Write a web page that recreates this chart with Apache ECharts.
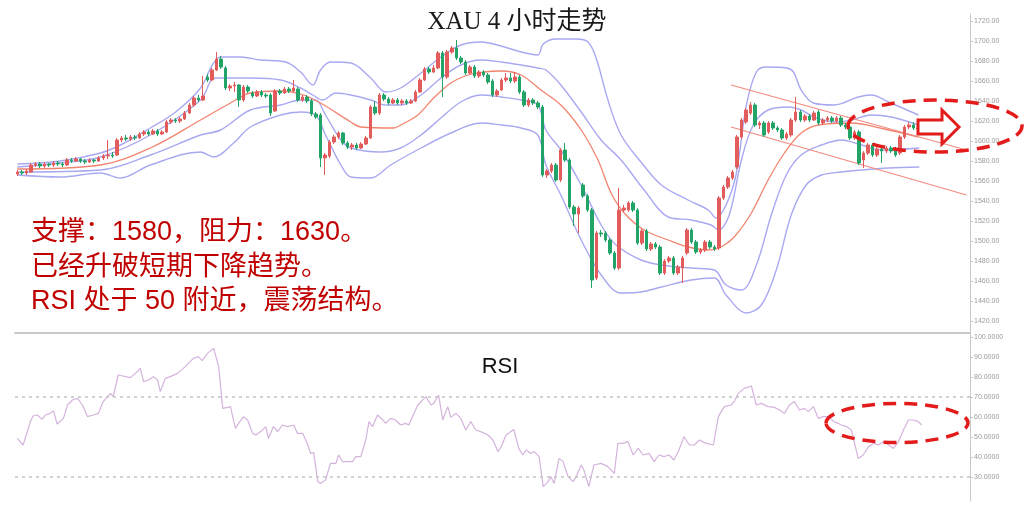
<!DOCTYPE html>
<html><head><meta charset="utf-8">
<script src="https://cdn.jsdelivr.net/npm/echarts@6/dist/echarts.min.js"></script>
<style>html,body{margin:0;padding:0;background:#fff}#c{width:1024px;height:507px}</style>
</head><body><div id="c"></div>
<script>
// candles: [open, close, low, high]
const candles = [
[1567,1569,1565,1571],[1569,1568,1566,1571],[1568,1570,1566,1572],[1569,1576,1568,1578],[1576,1577,1574,1579],
[1577,1575,1573,1579],[1575,1577,1573,1579],[1577,1576,1574,1578],[1576,1578,1574,1580],[1578,1577,1575,1580],
[1577,1576,1574,1579],[1576,1581,1575,1583],[1581,1580,1578,1583],[1580,1582,1579,1584],[1582,1580,1578,1583],
[1580,1579,1577,1582],[1579,1581,1578,1583],[1581,1580,1578,1582],[1580,1583,1579,1585],[1583,1585,1581,1587],
[1585,1586,1582,1601],[1586,1585,1583,1589],[1586,1601,1585,1603],[1601,1603,1599,1605],[1603,1602,1600,1606],
[1602,1604,1600,1606],[1604,1603,1601,1606],[1603,1607,1602,1609],[1607,1609,1605,1611],[1609,1607,1605,1611],
[1607,1610,1606,1612],[1610,1607,1605,1612],[1607,1609,1606,1611],[1609,1619,1608,1621],[1619,1621,1617,1623],
[1621,1620,1618,1623],[1620,1622,1618,1624],[1622,1628,1621,1630],[1628,1636,1627,1638],[1636,1643,1634,1645],
[1643,1641,1639,1646],[1641,1645,1640,1665],[1664,1661,1659,1667],[1661,1671,1660,1673],[1671,1682,1670,1689],
[1682,1674,1672,1685],[1673,1653,1651,1675],[1653,1655,1650,1657],[1655,1656,1649,1659],[1656,1641,1634,1657],
[1641,1654,1639,1656],[1654,1650,1648,1656],[1648,1645,1643,1650],[1645,1649,1644,1651],[1649,1646,1644,1651],
[1646,1645,1643,1648],[1646,1628,1625,1648],[1630,1650,1629,1652],[1650,1648,1646,1652],[1648,1652,1647,1654],
[1652,1650,1648,1654],[1650,1653,1649,1661],[1652,1641,1639,1654],[1641,1644,1639,1646],[1644,1640,1638,1646],
[1640,1627,1625,1642],[1627,1624,1622,1629],[1626,1583,1574,1628],[1583,1586,1566,1588],[1585,1599,1583,1601],
[1599,1604,1597,1606],[1604,1608,1602,1610],[1608,1598,1596,1609],[1598,1594,1592,1600],[1594,1596,1591,1598],
[1596,1593,1591,1598],[1593,1597,1592,1599],[1597,1603,1596,1605],[1603,1634,1602,1636],[1634,1628,1626,1640],
[1628,1646,1626,1648],[1646,1642,1640,1648],[1642,1638,1636,1644],[1638,1641,1637,1643],[1641,1638,1636,1643],
[1638,1640,1636,1642],[1640,1638,1636,1642],[1638,1640,1637,1642],[1640,1649,1639,1651],[1649,1661,1648,1663],
[1661,1672,1660,1674],[1672,1669,1667,1674],[1669,1673,1668,1676],[1673,1688,1672,1690],[1688,1664,1644,1690],
[1664,1689,1662,1691],[1689,1693,1687,1695],[1693,1683,1681,1701],[1683,1679,1677,1685],[1679,1668,1666,1681],
[1668,1674,1667,1676],[1674,1665,1663,1676],[1665,1669,1663,1671],[1669,1666,1664,1671],[1666,1659,1657,1668],
[1660,1646,1644,1662],[1646,1650,1644,1652],[1651,1661,1650,1663],[1661,1663,1659,1668],[1663,1660,1658,1668],
[1660,1664,1658,1669],[1664,1649,1647,1666],[1649,1636,1634,1651],[1636,1641,1634,1643],[1641,1638,1636,1643],
[1638,1634,1632,1640],[1634,1566,1564,1636],[1566,1570,1563,1572],[1570,1576,1568,1578],[1576,1561,1559,1578],
[1561,1591,1559,1593],[1591,1581,1579,1598],[1581,1534,1532,1583],[1534,1527,1515,1536],[1527,1533,1508,1535],
[1556,1545,1543,1558],[1545,1531,1529,1547],[1531,1461,1453,1533],[1463,1508,1461,1510],[1508,1507,1504,1511],
[1508,1501,1499,1510],[1501,1488,1486,1503],[1488,1473,1471,1490],[1473,1531,1471,1553],[1531,1533,1529,1536],
[1531,1538,1529,1540],[1538,1531,1529,1540],[1531,1498,1496,1533],[1498,1510,1496,1512],[1510,1492,1490,1512],
[1492,1497,1490,1499],[1497,1494,1492,1499],[1494,1468,1466,1496],[1468,1480,1466,1482],[1480,1483,1478,1485],
[1483,1468,1466,1485],[1468,1474,1466,1476],[1473,1483,1458,1485],[1488,1511,1486,1513],[1511,1499,1497,1513],
[1499,1489,1487,1501],[1489,1491,1487,1493],[1491,1499,1489,1501],[1499,1494,1492,1501],[1494,1492,1490,1496],
[1493,1543,1491,1545],[1543,1554,1541,1556],[1554,1563,1552,1565],[1563,1569,1561,1571],[1574,1604,1572,1606],
[1604,1621,1602,1623],[1619,1631,1617,1633],[1628,1636,1626,1639],[1636,1616,1614,1638],[1616,1618,1612,1620],
[1618,1606,1604,1620],[1609,1618,1607,1620],[1618,1613,1611,1620],[1613,1611,1609,1615],[1611,1603,1601,1613],
[1603,1607,1601,1609],[1606,1621,1604,1623],[1621,1629,1619,1644],[1629,1621,1619,1631],[1621,1625,1619,1627],
[1625,1621,1619,1627],[1621,1628,1620,1630],[1629,1618,1616,1631],[1618,1621,1616,1623],[1621,1623,1619,1625],
[1623,1620,1618,1625],[1620,1623,1618,1625],[1623,1616,1614,1625],[1616,1614,1612,1618],[1614,1603,1601,1616],
[1603,1609,1601,1611],[1609,1578,1576,1611],[1581,1588,1573,1590],[1588,1596,1586,1598],[1596,1586,1584,1598],
[1586,1592,1584,1594],[1592,1590,1578,1594],[1590,1593,1588,1595],[1593,1590,1588,1595],[1592,1586,1584,1594],
[1588,1604,1586,1606],[1604,1614,1602,1616],[1614,1616,1612,1619],[1616,1613,1611,1619],[1613,1612,1610,1615]
];
// band lines: [candle index, price]
const upperOuter = [[0,1577],[9.5,1580],[18.4,1588],[22.8,1596],[29.4,1613],[35,1629],[40.5,1653],[43.1,1676],[44.9,1684],[49.3,1684],[53.8,1681],[59.3,1679],[62.6,1669],[65.3,1656],[67,1671],[69.2,1679],[73.7,1678],[78.1,1663],[81.4,1649],[84.7,1653],[89.2,1668],[93.6,1684],[98,1696],[102.4,1699],[106.9,1695],[111.3,1689],[115,1686],[116.2,1697],[119,1702],[123.5,1702],[126.1,1699],[127.9,1683],[130.5,1641],[133.4,1606],[137.8,1579],[142.3,1556],[148.2,1541],[152.7,1531],[154.4,1523],[156.6,1536],[158.8,1566],[161.1,1636],[163.3,1669],[165.5,1674],[170,1673],[171.5,1669],[173.2,1651],[175.9,1638],[180.5,1636],[185.8,1644],[188.7,1646],[192.5,1639],[199.1,1626]];
const upperInner = [[0,1574],[9.5,1578],[18.4,1584],[29.4,1606],[40.5,1641],[43.8,1663],[51.5,1663],[58.2,1661],[62.6,1653],[65.3,1646],[67.5,1641],[70.4,1648],[73.7,1646],[78.1,1641],[81.4,1636],[84.7,1636],[89.2,1646],[93.6,1663],[98,1676],[102.4,1681],[106.9,1679],[111.3,1676],[115,1673],[116.8,1671],[120.1,1656],[124.6,1629],[129,1601],[133.4,1581],[138.5,1551],[143.8,1524],[148.9,1521],[153.3,1516],[154.9,1511],[157.3,1526],[160,1581],[162.6,1616],[165.9,1631],[170.4,1634],[173.2,1631],[176.5,1623],[181,1619],[184.3,1621],[188.7,1626],[193.1,1624],[199.1,1616]];
const midLine = [[0,1572],[18.4,1576],[29.4,1593],[40.5,1621],[47.1,1638],[51.5,1648],[58.2,1650],[62.6,1647],[67,1638],[73.7,1619],[75.9,1614],[83.2,1613],[84.7,1616],[88.5,1626],[92,1643],[95.8,1658],[99.6,1666],[103.1,1669],[106.9,1670],[111.3,1666],[115.7,1651],[120.1,1636],[124.6,1611],[128.3,1581],[131.2,1548],[134.1,1528],[138.5,1511],[143.8,1501],[148.2,1494],[152.7,1491],[155.5,1494],[158.4,1504],[162.2,1528],[165.9,1561],[169.5,1588],[173.2,1608],[177,1616],[184.3,1618],[191.6,1612],[199.1,1604]];
const lowerInner = [[0,1569],[18.4,1571],[29.4,1586],[40.5,1606],[44.9,1611],[51.5,1631],[58.2,1636],[62.6,1641],[65.9,1641],[68.1,1626],[71.5,1601],[73.7,1593],[80.3,1589],[84.7,1593],[89.2,1606],[93.6,1623],[98,1639],[102.4,1646],[106.9,1644],[111.3,1641],[115,1636],[116.8,1611],[120.1,1591],[124.6,1556],[129,1516],[132.3,1496],[137.8,1481],[142.3,1476],[148.9,1473],[154,1471],[156.6,1456],[160,1451],[163.3,1476],[166.6,1526],[169.9,1566],[173.2,1586],[177.7,1596],[182.1,1601],[186.5,1596],[190.9,1591],[199.3,1593]];
const lowerOuter = [[0,1566],[9.5,1564],[18.4,1568],[22.8,1563],[29.4,1576],[40.5,1589],[43.4,1584],[47.8,1598],[51.5,1614],[58.2,1626],[62.6,1629],[65.9,1626],[68.1,1606],[71.5,1576],[73.7,1564],[78.1,1563],[82.5,1576],[89.2,1593],[95.8,1608],[102.4,1618],[106.9,1616],[111.3,1613],[115,1606],[116.8,1576],[120.1,1546],[124.6,1501],[129,1466],[133.4,1448],[137.8,1449],[142.3,1454],[148.9,1461],[154,1463],[156.6,1446],[161.1,1428],[164.4,1436],[167.7,1471],[171,1526],[174.3,1556],[177.7,1566],[182.1,1569],[186.5,1571],[192.5,1573],[199.3,1574]];
const trendUpper = [[157.7,1656],[209.7,1591]];
const trendLower = [[157.7,1614],[209.7,1546]];
// RSI: [candle index, value]
const rsi = [[0,49.3],[0.2,48.5],[1.3,46],[2.9,57.7],[3.5,60.5],[4.4,61],[5.5,58.8],[6.2,61],[7.3,61.8],[8,63.2],[8.8,56.5],[10.2,59.3],[11.1,66],[12.2,68.5],[13.3,69.3],[14.4,66],[15.5,60.2],[16.8,61],[17.9,61.8],[19,67.7],[20.6,71.8],[21.2,70.2],[22.3,81],[23.9,80.2],[25,79.7],[26.1,81.8],[27.2,84.3],[27.9,77.7],[29,78.5],[30.1,80.2],[31,78.5],[31.6,72.7],[32.7,79.3],[33.8,80.2],[35.4,81.8],[36.7,84.3],[37.8,86.8],[38.9,89.3],[40,90.2],[40.9,88.2],[42,91.8],[43.4,94.3],[43.8,93.5],[44.5,85.2],[45.4,64.3],[46.5,64.8],[47.1,65.2],[48.2,54.3],[48.9,56.8],[50,60.2],[50.9,58.5],[52,51.8],[52.7,51],[53.8,52.7],[54.9,55.2],[55.5,49.3],[56.6,55.2],[57.5,52.7],[58.6,56],[59.7,55.2],[61.1,56],[61.9,51.8],[63.1,51.8],[64.2,46],[64.8,41.8],[65.5,42.2],[66.4,27.7],[67,26.8],[68.1,28.5],[69.2,36.8],[70.4,36.8],[71,41],[71.9,37.7],[73,37.7],[74.1,37.7],[74.8,40.2],[75.9,40.2],[77,48.5],[77.7,57.7],[78.5,55.2],[79.6,61],[80.8,58.5],[81.4,56.8],[82.5,59.3],[83.6,58.5],[84.7,56],[85.8,56.8],[86.5,56],[88.5,66],[90.3,70.2],[91.4,66],[92,66.8],[93.1,71],[94,58.5],[95.1,65.2],[95.8,59.8],[96.9,61.8],[98,59.3],[99.1,53.5],[100.2,57.7],[101.3,53.5],[102.4,52.7],[104,51],[105.1,48.5],[106.2,42.7],[106.9,45],[108,51],[109.7,53.8],[110.8,44.3],[111.7,41],[112.4,43.5],[113.5,41.8],[114.2,42.7],[115.3,40.2],[116.2,25.2],[117.3,27.7],[117.9,30.2],[118.6,26.8],[119.7,39.3],[120.6,37.7],[121.7,30.2],[122.8,27.7],[123.5,30.2],[124.6,36],[125.2,33.5],[126.3,25.2],[127.4,36],[129,36.8],[130.5,35.2],[131.9,31.8],[132.7,46.8],[133.8,46.8],[134.9,47.7],[136.1,41],[137.2,44.3],[138.3,41],[139.6,41.8],[140.7,37.7],[141.8,41],[142.9,40.2],[144,41],[145.1,38.5],[146.2,43.5],[147.3,50.2],[148.5,46],[149.6,46],[150.7,48.5],[152.2,46.8],[153.8,46],[154.9,60.2],[156.2,65.2],[157.7,66],[158.4,67.7],[159.3,71.8],[160.6,74.3],[162.2,75.5],[163.3,66],[164.4,66.8],[165.9,65.2],[167.3,64.8],[168.4,63.5],[169.5,61.8],[170.6,66],[171.7,67.7],[172.8,63.5],[173.9,64.3],[174.8,62.7],[175.9,65.2],[177,59.3],[178.1,60.2],[179.2,60.2],[180.5,57.7],[182.1,56],[183.2,55.2],[184.3,53.5],[185,46.8],[185.8,39.3],[186.9,41],[188.1,45.2],[189.2,46.8],[190.3,46],[191.4,47.7],[192.5,46],[193.6,44.3],[194.7,47.7],[195.8,53.5],[196.9,58.5],[198,58.5],[199.1,57.7],[199.8,56]];
const priceTicks = [1420,1440,1460,1480,1500,1520,1540,1560,1580,1600,1620,1640,1660,1680,1700,1720];
const rsiTicks = [30,40,50,60,70,80,90,100];
const rsiLevels = [70,30];
const slotCount = 211;
const title = 'XAU 4 小时走势';
const notes = ['支撑：1580，阻力：1630。','已经升破短期下降趋势。','RSI 处于 50 附近，震荡结构。'];

const cats = [];
for (let i = 0; i < slotCount; i++) cats.push(String(i));

const chart = echarts.init(document.getElementById('c'), null, {renderer:'canvas'});
const bandBlue = '#a9a9f2';
const lineSeries = (data, color, w, smooth) => ({
  type:'line', xAxisIndex:1, yAxisIndex:0, data, showSymbol:false, symbol:'none',
  smooth: smooth, lineStyle:{color, width:w}, silent:true, z:1, animation:false
});
const labelStyle = {color:'#9a9a9a', fontSize:7, fontFamily:'Liberation Sans'};
const noteFont = '27px "Liberation Sans","Noto Sans CJK SC"';
chart.setOption({
  animation:false,
  grid:[
    {left:15, right:54, top:14, height:319},
    {left:15, right:54, top:333, height:168}
  ],
  xAxis:[
    {type:'category', gridIndex:0, data:cats, boundaryGap:true,
     axisLine:{show:true, onZero:false, lineStyle:{color:'#c8c8c8', width:2}}, axisTick:{show:false}, axisLabel:{show:false}, splitLine:{show:false}},
    {type:'value', gridIndex:0, min:-0.5, max:slotCount-0.5, show:false},
    {type:'value', gridIndex:1, min:-0.5, max:slotCount-0.5, show:false}
  ],
  yAxis:[
    {type:'value', gridIndex:0, position:'right', min:1408, max:1727, splitLine:{show:false},
     axisLine:{show:true, onZero:false, lineStyle:{color:'#c8c8c8'}},
     axisTick:{show:true, customValues:priceTicks, length:3, lineStyle:{color:'#c8c8c8'}},
     axisLabel:Object.assign({customValues:priceTicks, margin:4, formatter:v=>v.toFixed(2)}, labelStyle)},
    {type:'value', gridIndex:1, position:'right', min:18, max:102, splitLine:{show:false},
     axisLine:{show:true, onZero:false, lineStyle:{color:'#c8c8c8'}},
     axisTick:{show:true, customValues:rsiTicks, length:3, lineStyle:{color:'#c8c8c8'}},
     axisLabel:Object.assign({customValues:rsiTicks, margin:4, formatter:v=>v.toFixed(4)}, labelStyle)}
  ],
  series:[
    lineSeries(upperOuter, bandBlue, 1.4, 0.35),
    lineSeries(upperInner, bandBlue, 1.4, 0.35),
    lineSeries(lowerInner, bandBlue, 1.4, 0.35),
    lineSeries(lowerOuter, bandBlue, 1.4, 0.35),
    lineSeries(midLine, '#f2846f', 1.3, 0.35),
    lineSeries(trendUpper, '#f28a80', 1.2, false),
    lineSeries(trendLower, '#f28a80', 1.2, false),
    {type:'candlestick', xAxisIndex:0, yAxisIndex:0, data:candles, barWidth:3, z:3,
     itemStyle:{color:'#e25c5c', color0:'#22a367', borderColor:'#e25c5c', borderColor0:'#22a367', borderWidth:1}},
    {type:'line', xAxisIndex:2, yAxisIndex:1, data:rsi, showSymbol:false, symbol:'none',
     lineStyle:{color:'#d4b3dc', width:1.2}, silent:true,
     markLine:{silent:true, symbol:'none', label:{show:false},
       lineStyle:{color:'#c4c4c4', type:[3,4], width:1.5},
       data:rsiLevels.map(v=>({yAxis:v}))}}
  ],
  graphic:[
    {type:'text', z:20, style:{text:title, x:517, y:22, textAlign:'center', textVerticalAlign:'middle', font:'25px "Liberation Serif","Noto Sans CJK SC"', fill:'#1a1a1a'}},
    {type:'text', z:20, style:{text:'RSI', x:500, y:367, textAlign:'center', textVerticalAlign:'middle', font:'22px "Liberation Sans","Noto Sans CJK SC"', fill:'#111'}},
    {type:'text', z:20, style:{text:notes[0], x:31, y:233, textVerticalAlign:'middle', font:noteFont, fill:'#c00000'}},
    {type:'text', z:20, style:{text:notes[1], x:31, y:268, textVerticalAlign:'middle', font:noteFont, fill:'#c00000'}},
    {type:'text', z:20, style:{text:notes[2], x:31, y:302, textVerticalAlign:'middle', font:noteFont, fill:'#c00000'}},
    {type:'ellipse', z:30, shape:{cx:935, cy:126, rx:87, ry:26}, style:{fill:null, stroke:'#e41b1b', lineWidth:3.5, lineDash:[13,8]}},
    {type:'ellipse', z:30, shape:{cx:897, cy:423, rx:71, ry:19.5}, style:{fill:null, stroke:'#e41b1b', lineWidth:3.5, lineDash:[13,8]}},
    {type:'polygon', z:31, shape:{points:[[918,120],[942,120],[942,110],[959,127],[942,144],[942,134],[918,134]]}, style:{fill:'#fff', stroke:'#e41b1b', lineWidth:3}}
  ]
});
</script></body></html>
